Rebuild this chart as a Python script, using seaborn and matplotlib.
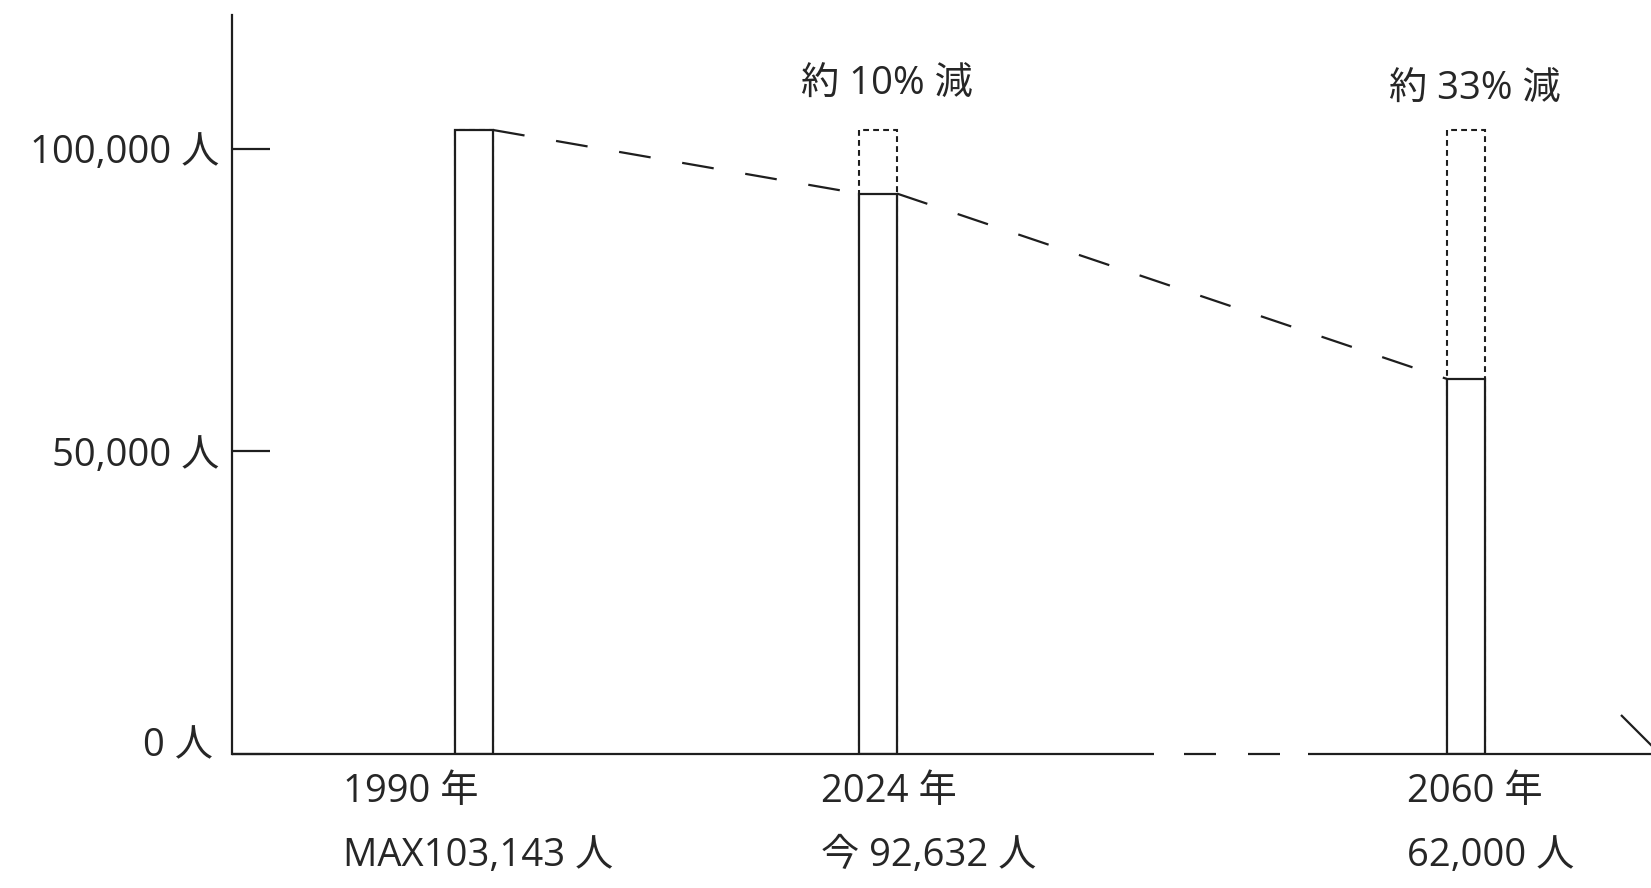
import matplotlib
matplotlib.use("Agg")
import matplotlib.pyplot as plt
import seaborn as sns
import pandas as pd
from matplotlib.transforms import ScaledTranslation

# ---- data ----
years = ["1990 年", "2024 年", "2060 年"]
values = [103143, 92632, 62000]
value_labels = ["MAX103,143 人", "今 92,632 人", "62,000 人"]
decrease_labels = ["", "約 10% 減", "約 33% 減"]
yticks = [0, 50000, 100000]
ytick_labels = ["0 人", "50,000 人", "100,000 人"]

# ---- layout (broken time axis, so positions are layout, not years) ----
pos = [0.0, 1.0, 2.455]
bar_w = 0.094
PX = 1.0 / 1.3889  # px -> pt at dpi 100
INK = "#1e1e1e"
TXT = "#262626"
FS = 27.5

sns.set_theme(style="white")
plt.rcParams["font.family"] = ["Open Sans", "Noto Sans CJK JP", "DejaVu Sans"]

fig = plt.figure(figsize=(16.51, 8.88), dpi=100)
ax = fig.add_axes([232 / 1651, 134 / 888, 1419 / 1651, 739 / 888])

df = pd.DataFrame({"pos": pos, "value": values, "ref": [max(values)] * len(values)})

# dotted "ghost" bars at the 1990 level
sns.barplot(data=df, x="pos", y="ref", native_scale=True, width=bar_w,
            errorbar=None, color="white", saturation=1, ax=ax,
            edgecolor=INK, linewidth=1.5, linestyle=(0, (2.8, 2.0)), zorder=2)
# actual bars
sns.barplot(data=df, x="pos", y="value", native_scale=True, width=bar_w,
            errorbar=None, color="white", saturation=1, ax=ax,
            edgecolor=INK, linewidth=1.6, zorder=3)

# dashed trend connecting bar tops
for i in range(len(values) - 1):
    ax.plot([pos[i] + bar_w / 2, pos[i + 1] - bar_w / 2], [values[i], values[i + 1]],
            color=INK, lw=1.6, dashes=(14.4, 14.4), solid_capstyle="butt",
            dash_capstyle="butt", zorder=4)

ax.set_xlim((232 - 474) / 404, (1651 - 474) / 404)
ax.set_ylim(0, 739 * 50000 / 302.5)
ax.set_xlabel("")
ax.set_ylabel("")
ax.set_xticks([])
ax.set_yticks(yticks, ytick_labels)
ax.tick_params(axis="y", direction="in", length=38 * PX, width=1.6, pad=9,
               labelsize=FS, color=INK, labelcolor=TXT, left=True)
for side in ["top", "right", "bottom"]:
    ax.spines[side].set_visible(False)
ax.spines["left"].set_color(INK)
ax.spines["left"].set_linewidth(1.6)
ax.spines["left"].set_zorder(5)

# shift the "0 人" label up a little, as in the original
lab0 = ax.yaxis.get_major_ticks()[0].label1
lab0.set_transform(lab0.get_transform() + ScaledTranslation(-7 / 100, 12 / 100, fig.dpi_scale_trans))

# baseline with a break
def axx(px):
    return (px - 232) / 1419

kw = dict(color=INK, lw=1.6, transform=ax.transAxes, clip_on=False, zorder=5,
          solid_capstyle="butt")
ax.plot([0, axx(1154)], [0, 0], **kw)
ax.plot([axx(1184), axx(1216)], [0, 0], **kw)
ax.plot([axx(1248), axx(1280)], [0, 0], **kw)
ax.plot([axx(1308), 1.0], [0, 0], **kw)
ax.plot([axx(1621), axx(1690)], [39 / 739, -30 / 739], **kw)

# labels
year_dx = [-131, -57, -59]
top_dy = [0, 45, 40]
for i in range(len(values)):
    ax.annotate(years[i], (pos[i], 0), xytext=(year_dx[i] * PX, -38 * PX),
                textcoords="offset points", ha="left", va="center",
                fontsize=FS, color=TXT, annotation_clip=False)
    ax.annotate(value_labels[i], (pos[i], 0), xytext=(year_dx[i] * PX, -102 * PX),
                textcoords="offset points", ha="left", va="center",
                fontsize=FS, color=TXT, annotation_clip=False)
    if decrease_labels[i]:
        ax.annotate(decrease_labels[i], (pos[i], max(values)),
                    xytext=(9 * PX, top_dy[i] * PX), textcoords="offset points",
                    ha="center", va="center", fontsize=FS, color=TXT,
                    annotation_clip=False)

fig.savefig("out.png", dpi=100, facecolor="white")
